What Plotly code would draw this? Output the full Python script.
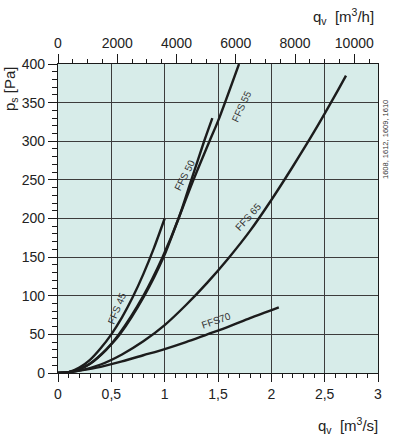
import plotly.graph_objects as go

# ---- data (q_v in m3/s, p_s in Pa) ----
ffs45_q = [0.0, 0.1, 0.2, 0.3, 0.4, 0.5, 0.6, 0.7, 0.8, 0.9, 1.0]
ffs45_p = [0, 1, 7, 17, 32, 50, 72, 98, 128, 162, 200]

ffs50_q = [0.0, 0.1, 0.2, 0.3, 0.45, 0.57, 0.8, 0.98, 1.13, 1.25, 1.37, 1.447]
ffs50_p = [0, 1, 5, 12, 30, 50, 100, 150, 200, 250, 300, 330]

ffs55_q = [0.0, 0.1, 0.2, 0.3, 0.45, 0.58, 0.81, 0.99, 1.13, 1.27, 1.42, 1.5, 1.697]
ffs55_p = [0, 1, 5, 12, 30, 50, 100, 150, 200, 250, 300, 326, 400]

ffs65_q = [0.0, 0.1, 0.2, 0.4, 0.6, 0.8, 1.0, 1.2, 1.4, 1.6, 1.8, 2.0, 2.2, 2.4, 2.6, 2.7]
ffs65_p = [0, 1, 3, 11, 24, 41, 62, 88, 117, 149, 184, 224, 267, 312, 360, 385]

ffs70_q = [0.0, 0.1, 0.2, 0.4, 0.6, 0.8, 1.0, 1.2, 1.4, 1.6, 1.8, 2.07]
ffs70_p = [0, 1, 3, 8, 15, 23, 31, 40, 50, 60, 71, 85]

curve_names = ["FFS 45", "FFS 50", "FFS 55", "FFS 65", "FFS70"]

x_tickvals = [0, 0.5, 1, 1.5, 2, 2.5, 3]
x_ticktext = ["0", "0,5", "1", "1,5", "2", "2,5", "3"]
x2_tickvals = [0, 2000, 4000, 6000, 8000, 10000]
x2_ticktext = ["0", "2000", "4000", "6000", "8000", "10000"]
y_tickvals = [0, 50, 100, 150, 200, 250, 300, 350, 400]

# label placement (data coords) and angles
label_x = [0.55, 1.185, 1.72, 1.79, 1.485]
label_y = [84, 256, 345, 202, 68]
label_ang = [-68, -63, -65, -48, -19]

FONT = "Liberation Sans, Arial, sans-serif"
LINE = "#1c1c1c"
GRID = "#3c3c3c"

fig = go.Figure()
series = [(ffs45_q, ffs45_p), (ffs50_q, ffs50_p), (ffs55_q, ffs55_p),
          (ffs65_q, ffs65_p), (ffs70_q, ffs70_p)]
for (q, p), name in zip(series, curve_names):
    fig.add_trace(go.Scatter(x=q, y=p, mode="lines", name=name,
                             line=dict(color=LINE, width=2.4, shape="spline", smoothing=0.8),
                             showlegend=False, hoverinfo="skip"))

# dummy trace to attach top axis (m3/h)
fig.add_trace(go.Scatter(x=[0, 10800], y=[None, None], xaxis="x2", mode="lines",
                         showlegend=False, hoverinfo="skip"))

for lx, ly, la, name in zip(label_x, label_y, label_ang, curve_names):
    fig.add_annotation(x=lx, y=ly, xref="x", yref="y", text=name, textangle=la,
                       showarrow=False, font=dict(family=FONT, size=10, color="#333333"))

W, H = 404, 442
ML, MR, MT, MB = 58, 26, 64, 69
pw, ph = W - ML - MR, H - MT - MB

def px2paper(px, py):
    return (px - ML) / pw, (H - MB - py) / ph

for txt, (px, py), ang in [
    ("q<sub>v</sub>  [m<sup>3</sup>/h]", (343, 16), 0),
    ("q<sub>v</sub>  [m<sup>3</sup>/s]", (348, 425), 0),
    ("p<sub>s</sub> [Pa]", (10, 89), -90),
]:
    xx, yy = px2paper(px, py)
    fig.add_annotation(x=xx, y=yy, xref="paper", yref="paper", text=txt, textangle=ang,
                       showarrow=False, xanchor="center", yanchor="middle",
                       font=dict(family=FONT, size=15, color="#222222"))

xx, yy = px2paper(392, 98)
fig.add_annotation(x=xx, y=yy, xref="paper", yref="paper", text="1608, 1612, 1609, 1610",
                   textangle=-90, showarrow=False, font=dict(family=FONT, size=7.5, color="#333333"))

tickfont = dict(family=FONT, size=14, color="#222222")
fig.update_layout(
    width=W, height=H,
    margin=dict(l=ML, r=MR, t=MT, b=MB, pad=0),
    paper_bgcolor="white",
    plot_bgcolor="#d7ece9",
    xaxis=dict(range=[0, 3], tickvals=x_tickvals, ticktext=x_ticktext,
               showgrid=True, gridcolor=GRID, gridwidth=1.3,
               showline=True, linecolor="#1a1a1a", linewidth=1.3,
               ticks="outside", ticklen=8, tickwidth=1.2, tickcolor="#1a1a1a",
               tickfont=tickfont, zeroline=False,
               minor=dict(dtick=0.1, ticks="outside", ticklen=4, tickcolor="#1a1a1a",
                          tickwidth=1, showgrid=False)),
    xaxis2=dict(range=[0, 10800], overlaying="x", side="top", anchor="y",
                tickvals=x2_tickvals, ticktext=x2_ticktext,
                showgrid=False, showline=True, linecolor="#1a1a1a", linewidth=1.3,
                ticks="outside", ticklen=9, tickwidth=1.2, tickcolor="#1a1a1a",
                tickfont=tickfont, zeroline=False,
                minor=dict(dtick=500, ticks="outside", ticklen=4, tickcolor="#1a1a1a",
                           tickwidth=1, showgrid=False)),
    yaxis=dict(range=[0, 400], tickvals=y_tickvals,
               showgrid=True, gridcolor=GRID, gridwidth=1.3,
               showline=True, linecolor="#1a1a1a", linewidth=1.3, mirror=True,
               ticks="outside", ticklen=9, tickwidth=1.2, tickcolor="#1a1a1a",
               tickfont=tickfont, zeroline=False,
               minor=dict(dtick=10, ticks="outside", ticklen=5, tickcolor="#1a1a1a",
                          tickwidth=1, showgrid=False)),
)

fig.write_html("out.html")
